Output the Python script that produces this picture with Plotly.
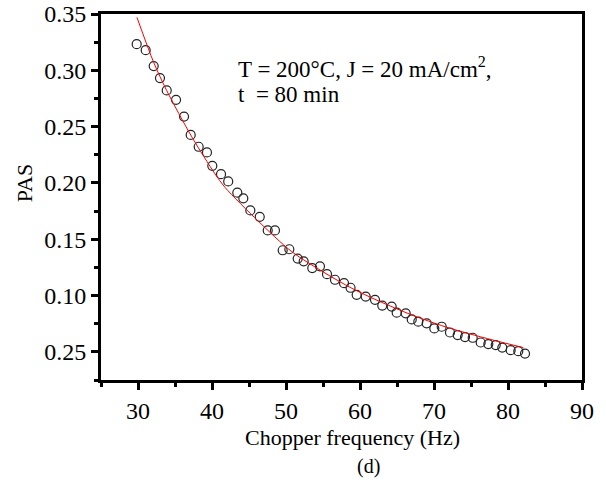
import plotly.graph_objects as go

# Measured PAS signal vs chopper frequency (open circles)
freq_hz = [29.82, 31.04, 32.12, 32.97, 33.88, 35.14, 36.22, 37.12, 38.20, 39.32,
           40.04, 41.22, 42.19, 43.42, 44.23, 45.18, 46.45, 47.53, 48.51, 49.55,
           50.45, 51.58, 52.39, 53.55, 54.59, 55.54, 56.62, 57.84, 58.72, 59.55,
           60.77, 62.03, 63.01, 64.28, 64.96, 66.18, 66.99, 67.88, 69.01, 70.04,
           71.04, 72.16, 73.20, 74.19, 75.23, 76.31, 77.34, 78.34, 79.23, 80.36,
           81.39, 82.30]
pas = [0.3232, 0.3179, 0.3038, 0.2931, 0.2821, 0.2738, 0.2589, 0.2426, 0.2321, 0.2271,
       0.2152, 0.2078, 0.2013, 0.1913, 0.1863, 0.1756, 0.1699, 0.1578, 0.1578, 0.1402,
       0.1411, 0.1328, 0.1304, 0.1244, 0.1259, 0.1190, 0.1140, 0.1110, 0.1069, 0.1006,
       0.0991, 0.0962, 0.0911, 0.0902, 0.0848, 0.0842, 0.0788, 0.0768, 0.0753, 0.0708,
       0.0723, 0.0672, 0.0649, 0.0631, 0.0625, 0.0583, 0.0569, 0.0560, 0.0538, 0.0515,
       0.0506, 0.0485]

# Fitted curve (red line)
fit_freq = [29.86, 32.12, 33.88, 37.26, 40.41, 41.76, 46.26, 50.77, 55.27,
            58.88, 62.47, 66.99, 71.49, 74.64, 78.01, 82.07]
fit_pas = [0.347, 0.307, 0.282, 0.241, 0.208, 0.196, 0.166, 0.139, 0.120,
           0.1065, 0.0953, 0.0828, 0.0723, 0.0663, 0.0604, 0.0538]

y_tickvals = [0.05, 0.10, 0.15, 0.20, 0.25, 0.30, 0.35]
y_ticktext = ["0.25", "0.10", "0.15", "0.20", "0.25", "0.30", "0.35"]
x_tickvals = [30, 40, 50, 60, 70, 80, 90]

FONT = "Liberation Serif, Times New Roman, serif"

fig = go.Figure()
fig.add_trace(go.Scatter(
    x=freq_hz, y=pas, mode="markers",
    marker=dict(symbol="circle-open", size=9, color="#222222", line=dict(width=1.2)),
    showlegend=False, cliponaxis=False))
fig.add_trace(go.Scatter(
    x=fit_freq, y=fit_pas, mode="lines",
    line=dict(color="#ff0000", width=1, shape="spline", smoothing=0.8),
    showlegend=False))

axis_common = dict(
    showline=True, linecolor="black", linewidth=3, mirror=True,
    showgrid=False, zeroline=False, automargin=False,
    ticks="outside", ticklen=7, tickwidth=3, tickcolor="black",
    tickfont=dict(family=FONT, size=24, color="black"),
)

fig.update_xaxes(range=[25, 90], tickmode="array", tickvals=x_tickvals,
                 minor=dict(ticks="outside", ticklen=4, tickwidth=3, tickcolor="black",
                            tickmode="linear", tick0=25, dtick=5, showgrid=False),
                 **axis_common)
fig.update_yaxes(range=[0.025, 0.35], tickmode="array", tickvals=y_tickvals,
                 ticktext=y_ticktext,
                 minor=dict(ticks="outside", ticklen=4, tickwidth=3, tickcolor="black",
                            tickmode="linear", tick0=0.025, dtick=0.025, showgrid=False),
                 **axis_common)

ann_font = dict(family=FONT, size=23, color="black")
fig.update_layout(
    width=606, height=486,
    margin=dict(l=101, r=24, t=14, b=106),
    paper_bgcolor="white", plot_bgcolor="white",
    font=dict(family=FONT, color="black"),
    annotations=[
        dict(text="T = 200°C, J = 20 mA/cm<sup>2</sup>,", xref="paper", yref="paper",
             x=0.2807, y=0.855, xanchor="left", yanchor="middle", showarrow=False,
             font=ann_font),
        dict(text="t \u00a0= 80 min", xref="paper", yref="paper",
             x=0.2807, y=0.779, xanchor="left", yanchor="middle", showarrow=False,
             font=ann_font),
        dict(text="PAS", xref="paper", yref="paper", textangle=-90,
             x=-0.160, y=0.538, xanchor="center", yanchor="middle", showarrow=False,
             font=dict(family=FONT, size=22, color="black")),
        dict(text="Chopper frequency (Hz)", xref="paper", yref="paper",
             x=0.295, y=-0.157, xanchor="left", yanchor="middle", showarrow=False,
             font=dict(family=FONT, size=22, color="black")),
        dict(text="(d)", xref="paper", yref="paper",
             x=0.557, y=-0.237, xanchor="center", yanchor="middle", showarrow=False,
             font=dict(family=FONT, size=20, color="black")),
    ],
)

fig.write_html("out.html", config={"displayModeBar": False})

# remove default page margin so the figure sits at the window origin
with open("out.html", "r", encoding="utf-8") as f:
    html = f.read()
html = html.replace("<head>", "<head><style>html,body{margin:0;padding:0;overflow:hidden;}</style>", 1)
with open("out.html", "w", encoding="utf-8") as f:
    f.write(html)
